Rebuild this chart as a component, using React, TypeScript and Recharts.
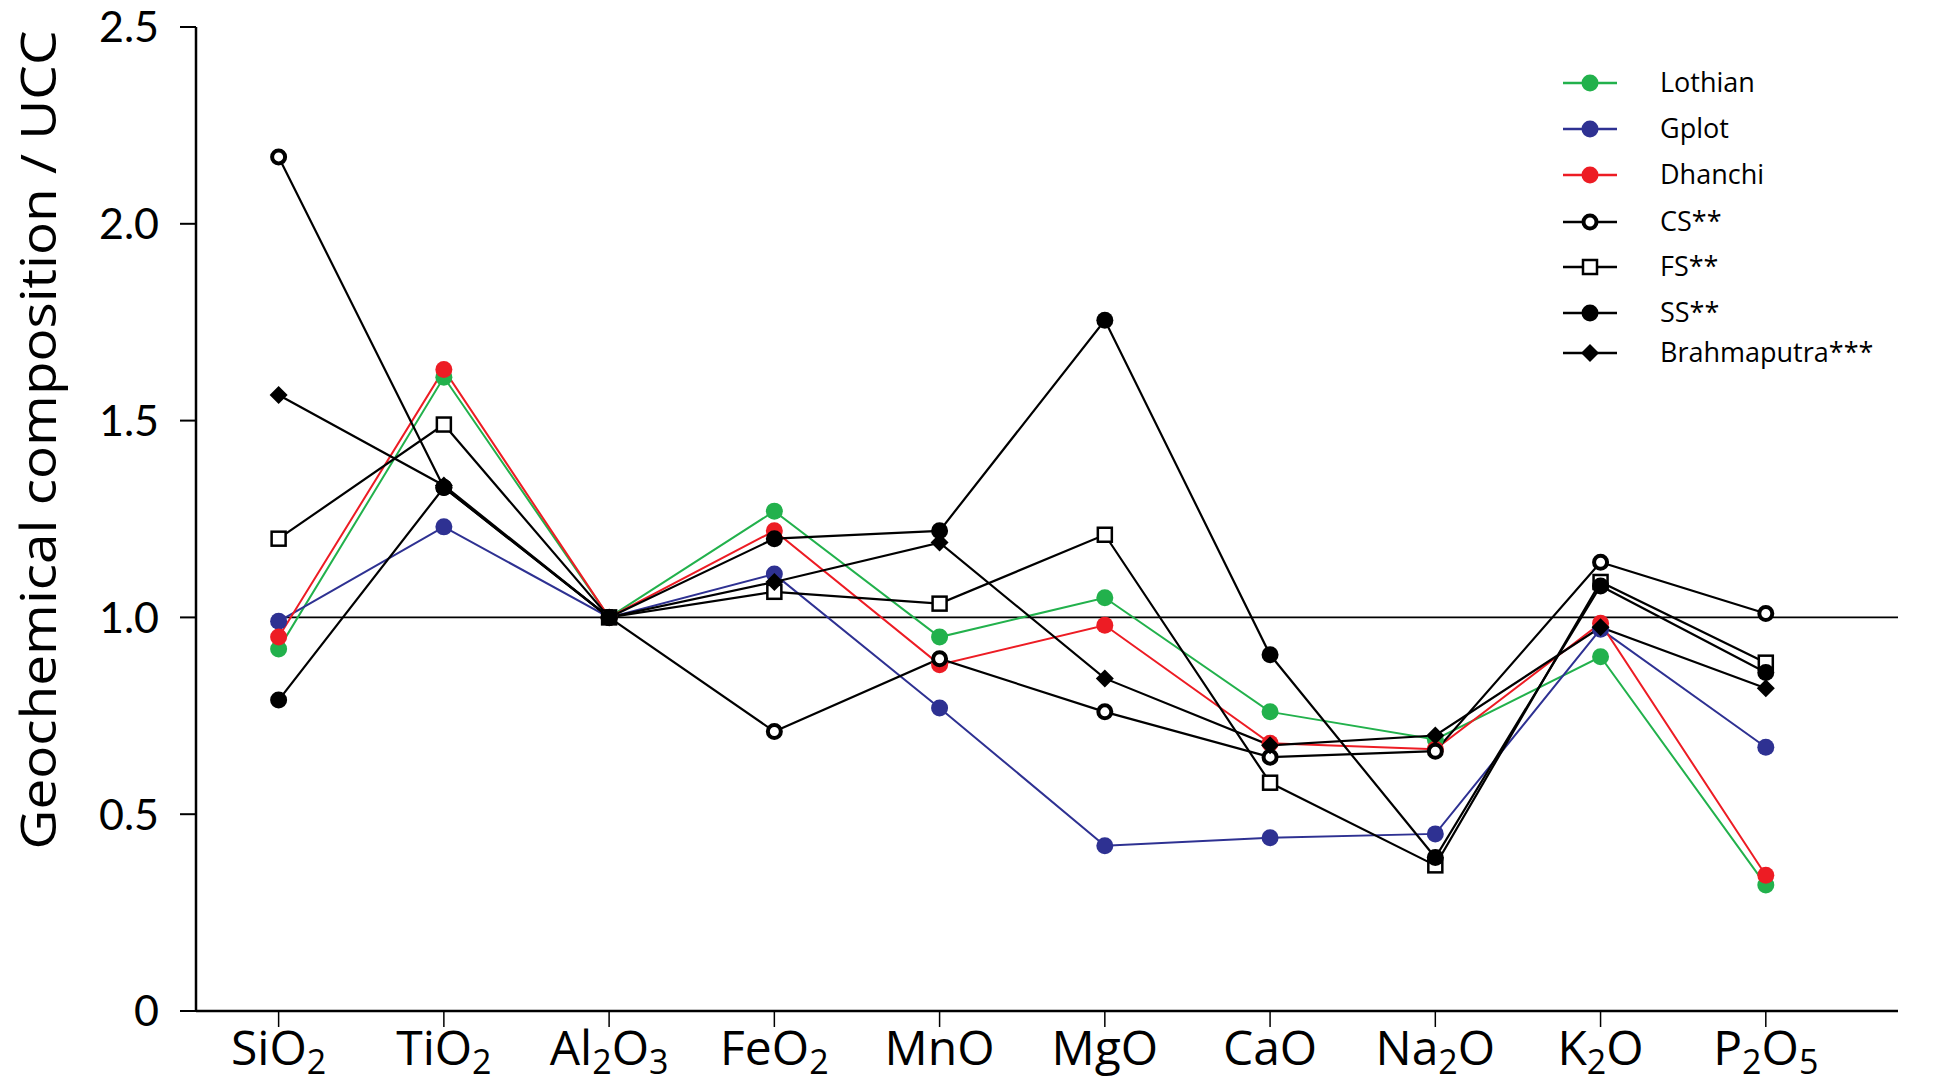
import { LineChart, Line, XAxis, YAxis, ReferenceLine, Customized } from 'recharts';

const categories = ['SiO2', 'TiO2', 'Al2O3', 'FeO2', 'MnO', 'MgO', 'CaO', 'Na2O', 'K2O', 'P2O5'];
const yTicks = [0, 0.5, 1.0, 1.5, 2.0, 2.5];

const lothian = [0.92, 1.61, 1.0, 1.27, 0.95, 1.05, 0.76, 0.69, 0.9, 0.32];
const gplot = [0.99, 1.23, 1.0, 1.11, 0.77, 0.42, 0.44, 0.45, 0.97, 0.67];
const dhanchi = [0.95, 1.63, 1.0, 1.22, 0.88, 0.98, 0.68, 0.665, 0.985, 0.345];
const cs = [2.17, 1.33, 1.0, 0.71, 0.895, 0.76, 0.645, 0.66, 1.14, 1.01];
const fs = [1.2, 1.49, 1.0, 1.065, 1.035, 1.21, 0.58, 0.37, 1.09, 0.885];
const ss = [0.79, 1.33, 1.0, 1.2, 1.22, 1.755, 0.905, 0.39, 1.08, 0.86];
const brahmaputra = [1.565, 1.335, 1.0, 1.09, 1.19, 0.845, 0.675, 0.7, 0.975, 0.82];

type Shape = 'dot' | 'ring' | 'square' | 'diamond';

const series: { key: string; name: string; color: string; shape: Shape; values: number[] }[] = [
  { key: 'lothian', name: 'Lothian', color: '#22b14c', shape: 'dot', values: lothian },
  { key: 'gplot', name: 'Gplot', color: '#2e3192', shape: 'dot', values: gplot },
  { key: 'dhanchi', name: 'Dhanchi', color: '#ed1c24', shape: 'dot', values: dhanchi },
  { key: 'cs', name: 'CS**', color: '#000', shape: 'ring', values: cs },
  { key: 'fs', name: 'FS**', color: '#000', shape: 'square', values: fs },
  { key: 'ss', name: 'SS**', color: '#000', shape: 'dot', values: ss },
  { key: 'brahmaputra', name: 'Brahmaputra***', color: '#000', shape: 'diamond', values: brahmaputra },
];

const data = categories.map((name, i) => {
  const row: Record<string, number | string> = { idx: i, name };
  series.forEach((s) => (row[s.key] = s.values[i]));
  return row;
});

// legend row centres (px)
const legendRows = [83, 129, 175, 222, 267, 313, 353];

function Marker({ cx, cy, shape, color }: { cx: number; cy: number; shape: Shape; color: string }) {
  if (shape === 'ring') return <circle cx={cx} cy={cy} r={6.5} fill="#fff" stroke={color} strokeWidth={4} />;
  if (shape === 'square')
    return <rect x={cx - 7} y={cy - 7} width={14} height={14} fill="#fff" stroke={color} strokeWidth={2.5} />;
  if (shape === 'diamond')
    return <polygon points={`${cx},${cy - 9} ${cx + 9},${cy} ${cx},${cy + 9} ${cx - 9},${cy}`} fill={color} />;
  return <circle cx={cx} cy={cy} r={8.5} fill={color} />;
}

// digits after letters become subscripts
function XTick({ x, y, payload }: any) {
  const label = categories[payload.value] ?? '';
  const parts = label.match(/[A-Za-z]+|\d+/g) || [];
  let down = false;
  return (
    <text x={x} y={y + 38} textAnchor="middle" fontFamily="'Open Sans', sans-serif" fontSize={48} fill="#000">
      {parts.map((p, i) => {
        const isSub = /\d/.test(p);
        const dy = isSub && !down ? 9 : !isSub && down ? -9 : 0;
        down = isSub;
        return (
          <tspan key={i} dy={dy} fontSize={isSub ? 34 : 48}>
            {p}
          </tspan>
        );
      })}
    </text>
  );
}

function YTick({ x, y, payload }: any) {
  const v = payload.value as number;
  return (
    <text x={x} y={y} dy="0.36em" textAnchor="end" fontFamily="Lato, 'Open Sans', sans-serif" fontSize={43} fill="#000">
      {v === 0 ? '0' : v.toFixed(1)}
    </text>
  );
}

function LegendBox() {
  return (
    <g>
      {series.map((s, i) => {
        const cy = legendRows[i];
        return (
          <g key={s.key}>
            <line x1={1563} x2={1617} y1={cy} y2={cy} stroke={s.color} strokeWidth={2.4} />
            <Marker cx={1590} cy={cy} shape={s.shape} color={s.color} />
            <text x={1660} y={cy} dy="0.35em" fontFamily="'Open Sans', sans-serif" fontSize={27} fill="#000">
              {s.name}
            </text>
          </g>
        );
      })}
      <text
        transform="translate(56, 440) rotate(-90)"
        textAnchor="middle"
        fontFamily="'Open Sans', sans-serif"
        fontSize={50}
        textLength={819}
        lengthAdjust="spacingAndGlyphs"
        fill="#000"
      >
        Geochemical composition / UCC
      </text>
    </g>
  );
}

export default function App() {
  return (
    <div style={{ position: 'absolute', left: 0, top: 0, background: '#fff' }}>
      <LineChart width={1945} height={1085} data={data} margin={{ top: 27, right: 47, bottom: 0, left: 0 }}>
        <XAxis
          dataKey="idx"
          type="number"
          domain={[-0.5, 9.8]}
          ticks={categories.map((_, i) => i)}
          allowDataOverflow
          height={74}
          tickSize={16}
          tickMargin={0}
          tick={<XTick />}
          axisLine={{ stroke: '#000', strokeWidth: 2.5 }}
          tickLine={{ stroke: '#000', strokeWidth: 1.5 }}
        />
        <XAxis xAxisId="top" orientation="top" type="number" domain={[-0.5, 9.8]} height={0} tick={false} tickLine={false} axisLine={{ stroke: '#000', strokeWidth: 2.5 }} />
        <YAxis
          type="number"
          domain={[0, 2.5]}
          ticks={yTicks}
          width={196}
          tickSize={16}
          tickMargin={21}
          tick={<YTick />}
          axisLine={{ stroke: '#000', strokeWidth: 2.5 }}
          tickLine={{ stroke: '#000', strokeWidth: 2 }}
        />
        <YAxis yAxisId="right" orientation="right" type="number" domain={[0, 2.5]} width={0} tick={false} tickLine={false} axisLine={{ stroke: '#000', strokeWidth: 2.5 }} />
        <ReferenceLine segment={[{ x: 0, y: 1 }, { x: 9.8, y: 1 }]} stroke="#000" strokeWidth={1.6} />
        {series.map((s) => (
          <Line
            key={s.key}
            dataKey={s.key}
            name={s.name}
            stroke={s.color}
            strokeWidth={s.color === '#000' ? 2.2 : 2}
            isAnimationActive={false}
            dot={(p: any) => <Marker key={`${s.key}-${p.index}`} cx={p.cx} cy={p.cy} shape={s.shape} color={s.color} />}
            activeDot={false}
          />
        ))}
        <Customized component={LegendBox} />
      </LineChart>
    </div>
  );
}
